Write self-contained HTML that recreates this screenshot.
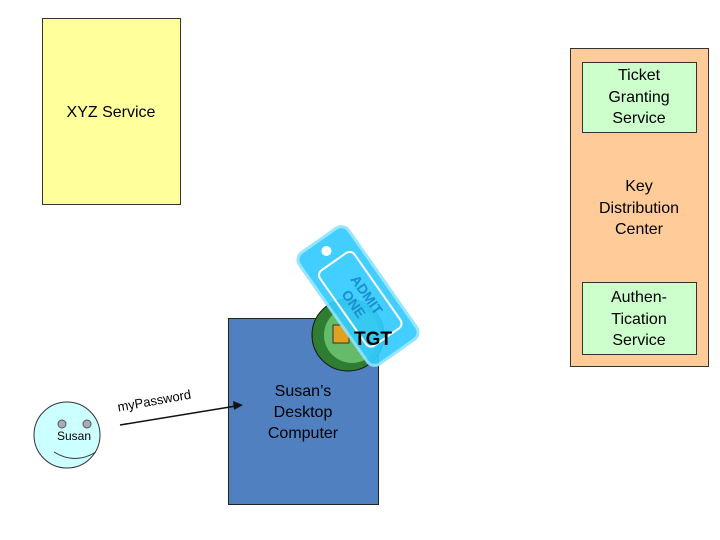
<!DOCTYPE html>
<html><head><style>body{margin:0;background:#fff}svg{display:block}text{font-family:"Liberation Sans",sans-serif}</style></head>
<body>
<svg width="720" height="540" viewBox="0 0 720 540" xmlns="http://www.w3.org/2000/svg">
<rect x="42.5" y="18.5" width="138" height="186" fill="#ffff9c" stroke="#333"/>
<text x="111" y="117" font-size="16" text-anchor="middle">XYZ Service</text>
<rect x="570.5" y="48.5" width="138" height="318" fill="#ffcc99" stroke="#333"/>
<rect x="582.5" y="62.5" width="114" height="70" fill="#ccffcc" stroke="#333"/>
<text font-size="16" text-anchor="middle"><tspan x="639" y="80">Ticket</tspan><tspan x="639" y="102">Granting</tspan><tspan x="639" y="123">Service</tspan></text>
<text font-size="16" text-anchor="middle"><tspan x="639" y="191">Key</tspan><tspan x="639" y="213">Distribution</tspan><tspan x="639" y="234">Center</tspan></text>
<rect x="582.5" y="282.5" width="114" height="72" fill="#ccffcc" stroke="#333"/>
<text font-size="16" text-anchor="middle"><tspan x="639" y="302">Authen-</tspan><tspan x="639" y="324">Tication</tspan><tspan x="639" y="345">Service</tspan></text>
<rect x="228.5" y="318.5" width="150" height="186" fill="#5080c0" stroke="#222"/>
<text font-size="16" text-anchor="middle"><tspan x="303" y="396">Susan’s</tspan><tspan x="303" y="417">Desktop</tspan><tspan x="303" y="438">Computer</tspan></text>
<circle cx="348" cy="335" r="36" fill="#2e7d32" stroke="#111"/>
<circle cx="352" cy="335" r="28" fill="#66bb6a"/>
<rect x="333" y="325" width="16" height="18" fill="#e0a020" stroke="#333"/>
<g transform="translate(358,296) rotate(55)">
<rect x="-68" y="-30" width="136" height="60" rx="9" fill="#33ccff" stroke="#8fe4ff" stroke-width="3" opacity="0.92"/>
<rect x="-42" y="-21" width="92" height="42" rx="6" fill="none" stroke="#fff" stroke-width="2"/>
<circle cx="-55" cy="0" r="5" fill="#fff"/>
<text x="4" y="-3" font-size="14" font-weight="bold" fill="#1a8fd0" text-anchor="middle">ADMIT</text>
<text x="4" y="13" font-size="14" font-weight="bold" fill="#1a8fd0" text-anchor="middle">ONE</text>
</g>
<text x="373" y="345" font-size="19" font-weight="bold" text-anchor="middle">TGT</text>
<circle cx="67" cy="435" r="33" fill="#ccffff" stroke="#333"/>
<circle cx="62" cy="424" r="4" fill="#aab" stroke="#555"/>
<circle cx="87" cy="424" r="4" fill="#aab" stroke="#555"/>
<text x="74" y="440" font-size="12" text-anchor="middle">Susan</text>
<path d="M54 452 Q75 465 96 452" fill="none" stroke="#333"/>
<text x="155" y="405" font-size="13" text-anchor="middle" transform="rotate(-10 155 405)">myPassword</text>
<line x1="120" y1="425" x2="236" y2="406" stroke="#111" stroke-width="1.5"/>
<polygon points="243,405 233,401 234,410" fill="#111"/>
</svg>
</body></html>
